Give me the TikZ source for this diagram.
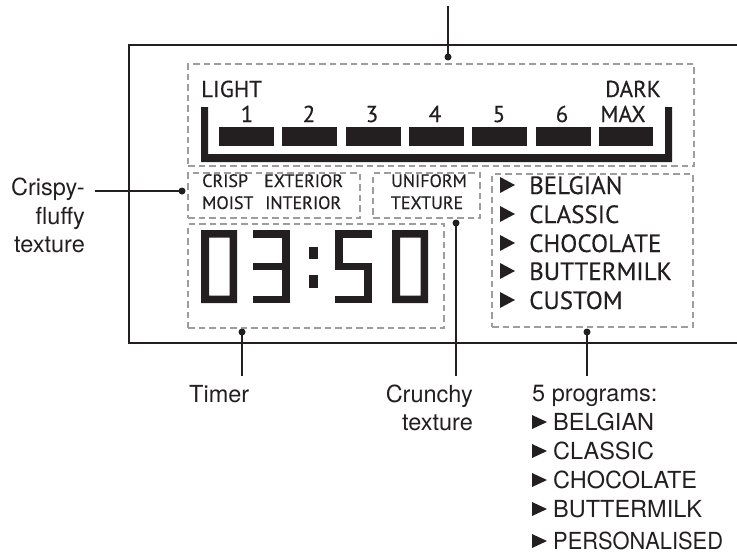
\documentclass[tikz,border=0pt]{standalone}
\usepackage{fontspec}
\setmainfont{TeX Gyre Heros}
\newfontfamily\panelfont{PT Sans}[FakeBold=0.3]
\definecolor{ink}{HTML}{231F20}
\definecolor{dashgray}{HTML}{9D9D9D}
\begin{document}
\begin{tikzpicture}[x=1pt,y=-1pt,
  panelbox/.style={draw=dashgray, line width=2.2pt, dash pattern=on 6.5pt off 4pt, inner sep=0pt, anchor=north west},
  leader/.style={draw=ink, line width=1.8pt},
  dotnode/.style={circle, fill=ink, inner sep=0pt, minimum size=7pt},
  lbl/.style={inner sep=0pt, text=ink, font=\fontsize{23.5}{28}\selectfont},
  ptxt/.style={inner sep=0pt, text=ink, font=\panelfont\fontsize{23}{28}\selectfont},
  plist/.style={inner sep=0pt, text=ink, font=\panelfont\fontsize{25}{28}\selectfont},
  psmall/.style={inner sep=0pt, text=ink, font=\panelfont\fontsize{18}{22}\selectfont},
  seg/.style={fill=ink}
]
\useasboundingbox (0,0) rectangle (737,554);

% outer housing
\draw[line width=2.6pt, ink] (737,45) -- (129,45) -- (129,343) -- (737,343);

% dashed panel zones
\node[panelbox, minimum width=506pt, minimum height=102pt] (brownbox) at (187,63) {};
\node[panelbox, minimum width=172pt, minimum height=45pt] (crispbox) at (187,172) {};
\node[panelbox, minimum width=107pt, minimum height=45pt] (unibox) at (372,172) {};
\node[panelbox, minimum width=201pt, minimum height=153pt] (progbox) at (491,173) {};
\node[panelbox, minimum width=256pt, minimum height=104pt] (timerbox) at (187,223) {};

% browning level scale
\node[ptxt, anchor=base west] (light) at (201,97) {LIGHT};
\node[ptxt, anchor=base east] (dark) at (661,97) {DARK};
\node[ptxt, anchor=base] (n1) at (247,122) {1};
\node[ptxt, anchor=base] (n2) at (309,122) {2};
\node[ptxt, anchor=base] (n3) at (372,122) {3};
\node[ptxt, anchor=base] (n4) at (435,122) {4};
\node[ptxt, anchor=base] (n5) at (499,122) {5};
\node[ptxt, anchor=base] (n6) at (562,122) {6};
\node[ptxt, anchor=base] (nmax) at (623,122) {MAX};
\foreach \a/\b in {219/274,282/337,346/401,409/464,472/527,536/591,599/653}
  \fill[ink] (\a,127) rectangle (\b,146);
\fill[ink] (201,107) -- (208,107) -- (208,154) -- (665,154) -- (665,107) -- (672,107)
  -- (672,162) -- (201,162) -- cycle;

% texture zones
\node[psmall, anchor=base west] (crisp) at (202,187) {CRISP};
\node[psmall, anchor=base west] (exterior) at (264,187) {EXTERIOR};
\node[psmall, anchor=base west] (moist) at (202,209) {MOIST};
\node[psmall, anchor=base west] (interior) at (265,209) {INTERIOR};
\node[psmall, anchor=base] (uniform) at (429,187) {UNIFORM};
\node[psmall, anchor=base] (texture) at (427,209) {TEXTURE};

% programs in panel
\foreach \y/\t [count=\i] in {194/BELGIAN,223/CLASSIC,252/CHOCOLATE,280/BUTTERMILK,309/CUSTOM}{
  \fill[ink] (500,\y-17) -- (515,\y-9) -- (500,\y-1) -- cycle;
  \node[plist, anchor=base west] (prog\i) at (529,\y) {\t};
}

% timer digits 03:50
\fill[seg, even odd rule] (201,230) rectangle (237,303) (209,237.5) rectangle (229.5,295.5);
\fill[seg] (253,230) rectangle (290,237.5);
\fill[seg] (253,263) rectangle (290,270);
\fill[seg] (253,295.5) rectangle (290,303);
\fill[seg] (282,230) rectangle (290,303);
\fill[seg] (309,247) rectangle (318,259);
\fill[seg] (309,275) rectangle (318,288);
\fill[seg] (335,230) rectangle (372,237.5);
\fill[seg] (335,230) rectangle (343,270);
\fill[seg] (335,263) rectangle (372,270);
\fill[seg] (364,263) rectangle (372,303);
\fill[seg] (335,295.5) rectangle (372,303);
\fill[seg, even odd rule] (392,230) rectangle (428,303) (400,237.5) rectangle (420.5,295.5);

% leader dots and lines
\node[dotnode] (dTop) at (448,57) {};
\coordinate (eTop) at (448,6);
\draw[leader] (dTop.center) -- (eTop);

\node[dotnode] (dCrisp) at (182,191) {};
\coordinate (eCrisp) at (95,191);
\draw[leader] (dCrisp.center) -- (eCrisp);

\node[dotnode] (dUni) at (456,223) {};
\coordinate (eUni) at (456,376);
\draw[leader] (dUni.center) -- (eUni);

\node[dotnode] (dTimer) at (242,332) {};
\coordinate (eTimer) at (242,376);
\draw[leader] (dTimer.center) -- (eTimer);

\node[dotnode] (dProg) at (587,332) {};
\coordinate (eProg) at (587,376);
\draw[leader] (dProg.center) -- (eProg);

% outside labels
\node[lbl, anchor=base east] (crispyA) at (85,195) {Crispy-};
\node[lbl, anchor=base east] (crispyB) at (85,224) {fluffy};
\node[lbl, anchor=base east] (crispyC) at (85,252) {texture};
\node[lbl, anchor=base west] (timer) at (189,402) {Timer};
\node[lbl, anchor=base east] (crunchyA) at (473,402) {Crunchy};
\node[lbl, anchor=base east] (crunchyB) at (473,430) {texture};
\node[lbl, anchor=base west] (progs) at (532,401) {5 programs:};
\foreach \y/\t [count=\i] in {430/BELGIAN,459/CLASSIC,488/CHOCOLATE,517/BUTTERMILK}{
  \fill[ink] (532,\y-15) -- (547,\y-8) -- (532,\y-1) -- cycle;
  \node[lbl, anchor=base west] (out\i) at (553,\y) {\t};
}
\fill[ink] (532,534) -- (547,541) -- (532,548) -- cycle;
\node[lbl, anchor=base west] (out5) at (553,549) {\scalebox{0.93}[1]{PERSONALISED}};
\end{tikzpicture}
\end{document}
